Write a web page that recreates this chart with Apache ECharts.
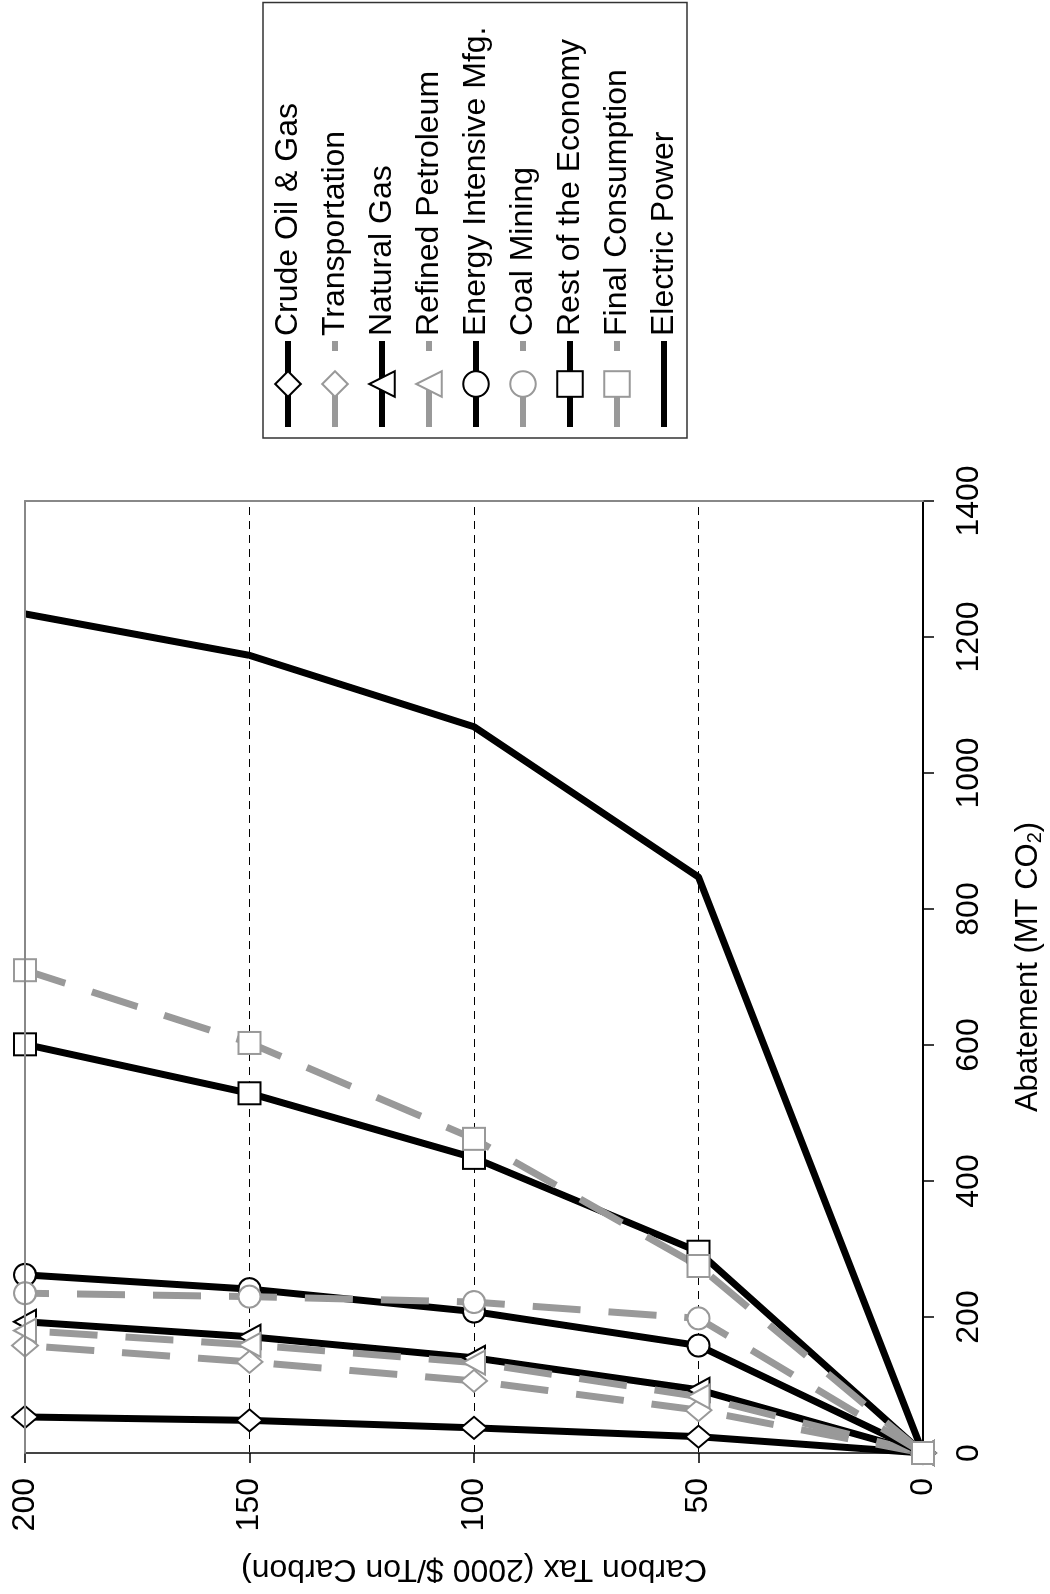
<!DOCTYPE html>
<html>
<head>
<meta charset="utf-8">
<script src="https://cdn.jsdelivr.net/npm/echarts@6/dist/echarts.min.js"></script>
<style>
  html, body { margin: 0; padding: 0; background: #fff; width: 1050px; height: 1594px; overflow: hidden; }
  /* chart is drawn landscape, then turned 90 degrees counter-clockwise like the reference */
  #chart {
    position: absolute; left: 0; top: 0;
    width: 1594px; height: 1050px;
    transform-origin: 0 0;
    transform: translate(0, 1594px) rotate(-90deg);
  }
</style>
</head>
<body>
<div id="chart"></div>
<script>
var taxLevels = [0, 50, 100, 150, 200];

var crudeOilGas      = [0, 24, 37, 48, 53];
var transportation   = [0, 63, 106, 134, 158];
var naturalGas       = [0, 93, 140, 171, 193];
var refinedPetroleum = [0, 83, 133, 159, 180];
var energyIntensive  = [0, 158, 208, 241, 262];
var coalMining       = [0, 198, 222, 230, 235];
var restOfEconomy    = [0, 296, 434, 529, 601];
var finalConsumption = [0, 275, 462, 603, 710];
var electricPower    = [0, 847, 1068, 1173, 1234];

var black = '#000000';
var grey = '#999999';
var font = '"Liberation Sans", Arial, sans-serif';

function pairs(vals) {
    var out = [];
    for (var i = 0; i < vals.length; i++) {
        out.push([vals[i], taxLevels[i]]);
    }
    return out;
}

function mkSeries(name, vals, dashed, symbol, size) {
    var col = dashed ? grey : black;
    return {
        name: name,
        type: 'line',
        data: pairs(vals),
        symbol: symbol,
        symbolSize: size,
        showSymbol: symbol !== 'none',
        lineStyle: { color: col, width: 7, type: dashed ? [48, 28] : 'solid' },
        itemStyle: symbol === 'none' ? { color: col } : { color: '#ffffff', borderColor: col, borderWidth: 2 },
        emphasis: { disabled: true }
    };
}

function plain(v) { return String(v); }

var chart = echarts.init(document.getElementById('chart'));

var option = {
    animation: false,
    backgroundColor: '#ffffff',
    textStyle: { fontFamily: font },
    grid: { left: 141, right: 501, top: 25, bottom: 125 },
    legend: {
        orient: 'vertical',
        left: 1156,
        top: 263,
        padding: [9, 24, 7, 8],
        itemWidth: 86,
        itemHeight: 32,
        itemGap: 15,
        borderColor: '#333333',
        borderWidth: 1.5,
        lineStyle: { width: 6 },
        textStyle: { fontFamily: font, fontSize: 32, color: '#000' },
        data: ['Crude Oil & Gas', 'Transportation', 'Natural Gas', 'Refined Petroleum',
               'Energy Intensive Mfg.', 'Coal Mining', 'Rest of the Economy',
               'Final Consumption',
               { name: 'Electric Power', itemStyle: { color: 'rgba(0,0,0,0)', borderWidth: 0 } }]
    },
    xAxis: [{
        type: 'value',
        min: 0, max: 1400, interval: 200,
        position: 'bottom',
        name: 'Abatement (MT CO{sub|2})',
        nameLocation: 'middle',
        nameGap: 88,
        nameTextStyle: {
            fontFamily: font, fontSize: 31, color: '#000',
            padding: [0, 0, 0, 20],
            rich: { sub: { fontFamily: font, fontSize: 20, color: '#000', verticalAlign: 'bottom', padding: [14, 0, 0, 0] } }
        },
        axisLine: { show: true, lineStyle: { color: '#000', width: 2 } },
        axisTick: { show: true, inside: false, length: 11, lineStyle: { color: '#000', width: 1.5 } },
        axisLabel: { margin: 30, fontFamily: font, fontSize: 32, color: '#000', formatter: plain },
        splitLine: { show: false }
    }, {
        type: 'value',
        min: 0, max: 1400, interval: 200,
        position: 'top',
        z: 5,
        axisLine: { show: true, onZero: false, lineStyle: { color: '#888888', width: 2 } },
        axisTick: { show: false },
        axisLabel: { show: false },
        splitLine: { show: false }
    }],
    yAxis: [{
        type: 'value',
        min: 0, max: 200, interval: 50,
        position: 'left',
        name: 'Carbon Tax (2000 $/Ton Carbon)',
        nameLocation: 'middle',
        nameGap: 100,
        nameTextStyle: { fontFamily: font, fontSize: 32, color: '#000' },
        axisLine: { show: true, lineStyle: { color: '#444444', width: 2 } },
        axisTick: { show: true, inside: false, length: 10, lineStyle: { color: '#000', width: 1.5 } },
        axisLabel: { margin: 25, fontFamily: font, fontSize: 32, color: '#000', formatter: plain },
        splitLine: { show: true, lineStyle: { color: '#000', width: 1, type: [8, 6] } }
    }, {
        type: 'value',
        min: 0, max: 200, interval: 50,
        position: 'right',
        z: 5,
        axisLine: { show: true, onZero: false, lineStyle: { color: '#888888', width: 2 } },
        axisTick: { show: false },
        axisLabel: { show: false },
        splitLine: { show: false }
    }],
    series: [
        mkSeries('Crude Oil & Gas', crudeOilGas, false, 'diamond', [22, 26]),
        mkSeries('Transportation', transportation, true, 'diamond', [22, 26]),
        mkSeries('Natural Gas', naturalGas, false, 'triangle', [24, 22]),
        mkSeries('Refined Petroleum', refinedPetroleum, true, 'triangle', [24, 22]),
        mkSeries('Energy Intensive Mfg.', energyIntensive, false, 'circle', 22),
        mkSeries('Coal Mining', coalMining, true, 'circle', 22),
        mkSeries('Rest of the Economy', restOfEconomy, false, 'rect', 22),
        mkSeries('Final Consumption', finalConsumption, true, 'rect', 22),
        mkSeries('Electric Power', electricPower, false, 'none', 0)
    ]
};

chart.setOption(option);
</script>
</body>
</html>
